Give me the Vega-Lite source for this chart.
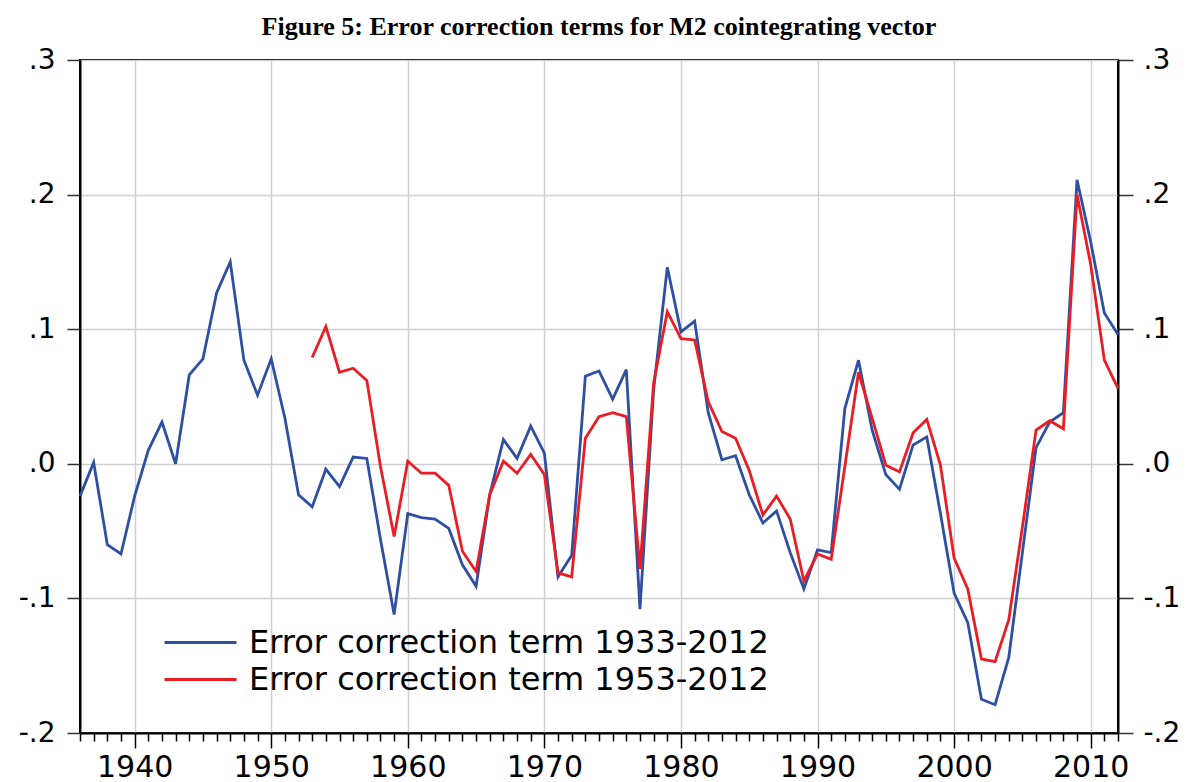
{
  "$schema": "https://vega.github.io/schema/vega-lite/v6.json",
  "width": 1038,
  "height": 673,
  "autosize": {"type": "none"},
  "padding": {"left": 80, "top": 60, "right": 75, "bottom": 49},
  "background": "white",
  "title": {
    "text": "Figure 5: Error correction terms for M2 cointegrating vector",
    "font": "Liberation Serif",
    "fontWeight": "bold",
    "fontSize": 26,
    "color": "black",
    "anchor": "middle",
    "offset": 6
  },
  "config": {
    "view": {"stroke": "black", "strokeWidth": 2},
    "axis": {
      "labelFont": "DejaVu Sans",
      "labelColor": "black",
      "domainColor": "black",
      "domainWidth": 2,
      "tickColor": "#333333",
      "tickWidth": 1.5,
      "gridColor": "#d0d0d0",
      "gridWidth": 1.5,
      "title": null
    },
    "legend": {
      "title": null,
      "orient": "none",
      "symbolType": "stroke",
      "symbolSize": 5184,
      "symbolStrokeWidth": 3,
      "labelFont": "DejaVu Sans",
      "labelFontSize": 32,
      "labelColor": "black",
      "labelLimit": 800,
      "labelOffset": 11,
      "padding": 0
    }
  },
  "datasets": {
    "ect": [
      {"year": 1936, "series": "Error correction term 1933-2012", "value": -0.024},
      {"year": 1937, "series": "Error correction term 1933-2012", "value": 0.001},
      {"year": 1938, "series": "Error correction term 1933-2012", "value": -0.060},
      {"year": 1939, "series": "Error correction term 1933-2012", "value": -0.067},
      {"year": 1940, "series": "Error correction term 1933-2012", "value": -0.024},
      {"year": 1941, "series": "Error correction term 1933-2012", "value": 0.010},
      {"year": 1942, "series": "Error correction term 1933-2012", "value": 0.031},
      {"year": 1943, "series": "Error correction term 1933-2012", "value": 0.000},
      {"year": 1944, "series": "Error correction term 1933-2012", "value": 0.066},
      {"year": 1945, "series": "Error correction term 1933-2012", "value": 0.078},
      {"year": 1946, "series": "Error correction term 1933-2012", "value": 0.127},
      {"year": 1947, "series": "Error correction term 1933-2012", "value": 0.150},
      {"year": 1948, "series": "Error correction term 1933-2012", "value": 0.077},
      {"year": 1949, "series": "Error correction term 1933-2012", "value": 0.051},
      {"year": 1950, "series": "Error correction term 1933-2012", "value": 0.078},
      {"year": 1951, "series": "Error correction term 1933-2012", "value": 0.034},
      {"year": 1952, "series": "Error correction term 1933-2012", "value": -0.023},
      {"year": 1953, "series": "Error correction term 1933-2012", "value": -0.032},
      {"year": 1954, "series": "Error correction term 1933-2012", "value": -0.004},
      {"year": 1955, "series": "Error correction term 1933-2012", "value": -0.017},
      {"year": 1956, "series": "Error correction term 1933-2012", "value": 0.005},
      {"year": 1957, "series": "Error correction term 1933-2012", "value": 0.004},
      {"year": 1958, "series": "Error correction term 1933-2012", "value": -0.056},
      {"year": 1959, "series": "Error correction term 1933-2012", "value": -0.112},
      {"year": 1960, "series": "Error correction term 1933-2012", "value": -0.037},
      {"year": 1961, "series": "Error correction term 1933-2012", "value": -0.040},
      {"year": 1962, "series": "Error correction term 1933-2012", "value": -0.041},
      {"year": 1963, "series": "Error correction term 1933-2012", "value": -0.048},
      {"year": 1964, "series": "Error correction term 1933-2012", "value": -0.075},
      {"year": 1965, "series": "Error correction term 1933-2012", "value": -0.091},
      {"year": 1966, "series": "Error correction term 1933-2012", "value": -0.023},
      {"year": 1967, "series": "Error correction term 1933-2012", "value": 0.018},
      {"year": 1968, "series": "Error correction term 1933-2012", "value": 0.004},
      {"year": 1969, "series": "Error correction term 1933-2012", "value": 0.028},
      {"year": 1970, "series": "Error correction term 1933-2012", "value": 0.008},
      {"year": 1971, "series": "Error correction term 1933-2012", "value": -0.084},
      {"year": 1972, "series": "Error correction term 1933-2012", "value": -0.068},
      {"year": 1973, "series": "Error correction term 1933-2012", "value": 0.065},
      {"year": 1974, "series": "Error correction term 1933-2012", "value": 0.069},
      {"year": 1975, "series": "Error correction term 1933-2012", "value": 0.048},
      {"year": 1976, "series": "Error correction term 1933-2012", "value": 0.070},
      {"year": 1977, "series": "Error correction term 1933-2012", "value": -0.108},
      {"year": 1978, "series": "Error correction term 1933-2012", "value": 0.055},
      {"year": 1979, "series": "Error correction term 1933-2012", "value": 0.146},
      {"year": 1980, "series": "Error correction term 1933-2012", "value": 0.098},
      {"year": 1981, "series": "Error correction term 1933-2012", "value": 0.106},
      {"year": 1982, "series": "Error correction term 1933-2012", "value": 0.038},
      {"year": 1983, "series": "Error correction term 1933-2012", "value": 0.003},
      {"year": 1984, "series": "Error correction term 1933-2012", "value": 0.006},
      {"year": 1985, "series": "Error correction term 1933-2012", "value": -0.023},
      {"year": 1986, "series": "Error correction term 1933-2012", "value": -0.044},
      {"year": 1987, "series": "Error correction term 1933-2012", "value": -0.035},
      {"year": 1988, "series": "Error correction term 1933-2012", "value": -0.066},
      {"year": 1989, "series": "Error correction term 1933-2012", "value": -0.093},
      {"year": 1990, "series": "Error correction term 1933-2012", "value": -0.064},
      {"year": 1991, "series": "Error correction term 1933-2012", "value": -0.066},
      {"year": 1992, "series": "Error correction term 1933-2012", "value": 0.041},
      {"year": 1993, "series": "Error correction term 1933-2012", "value": 0.077},
      {"year": 1994, "series": "Error correction term 1933-2012", "value": 0.025},
      {"year": 1995, "series": "Error correction term 1933-2012", "value": -0.008},
      {"year": 1996, "series": "Error correction term 1933-2012", "value": -0.019},
      {"year": 1997, "series": "Error correction term 1933-2012", "value": 0.014},
      {"year": 1998, "series": "Error correction term 1933-2012", "value": 0.020},
      {"year": 1999, "series": "Error correction term 1933-2012", "value": -0.037},
      {"year": 2000, "series": "Error correction term 1933-2012", "value": -0.096},
      {"year": 2001, "series": "Error correction term 1933-2012", "value": -0.118},
      {"year": 2002, "series": "Error correction term 1933-2012", "value": -0.175},
      {"year": 2003, "series": "Error correction term 1933-2012", "value": -0.179},
      {"year": 2004, "series": "Error correction term 1933-2012", "value": -0.144},
      {"year": 2005, "series": "Error correction term 1933-2012", "value": -0.066},
      {"year": 2006, "series": "Error correction term 1933-2012", "value": 0.012},
      {"year": 2007, "series": "Error correction term 1933-2012", "value": 0.031},
      {"year": 2008, "series": "Error correction term 1933-2012", "value": 0.038},
      {"year": 2009, "series": "Error correction term 1933-2012", "value": 0.211},
      {"year": 2010, "series": "Error correction term 1933-2012", "value": 0.165},
      {"year": 2011, "series": "Error correction term 1933-2012", "value": 0.112},
      {"year": 2012, "series": "Error correction term 1933-2012", "value": 0.096},
      {"year": 1953, "series": "Error correction term 1953-2012", "value": 0.079},
      {"year": 1954, "series": "Error correction term 1953-2012", "value": 0.102},
      {"year": 1955, "series": "Error correction term 1953-2012", "value": 0.068},
      {"year": 1956, "series": "Error correction term 1953-2012", "value": 0.071},
      {"year": 1957, "series": "Error correction term 1953-2012", "value": 0.062},
      {"year": 1958, "series": "Error correction term 1953-2012", "value": -0.002},
      {"year": 1959, "series": "Error correction term 1953-2012", "value": -0.054},
      {"year": 1960, "series": "Error correction term 1953-2012", "value": 0.002},
      {"year": 1961, "series": "Error correction term 1953-2012", "value": -0.007},
      {"year": 1962, "series": "Error correction term 1953-2012", "value": -0.007},
      {"year": 1963, "series": "Error correction term 1953-2012", "value": -0.016},
      {"year": 1964, "series": "Error correction term 1953-2012", "value": -0.065},
      {"year": 1965, "series": "Error correction term 1953-2012", "value": -0.080},
      {"year": 1966, "series": "Error correction term 1953-2012", "value": -0.023},
      {"year": 1967, "series": "Error correction term 1953-2012", "value": 0.002},
      {"year": 1968, "series": "Error correction term 1953-2012", "value": -0.007},
      {"year": 1969, "series": "Error correction term 1953-2012", "value": 0.007},
      {"year": 1970, "series": "Error correction term 1953-2012", "value": -0.008},
      {"year": 1971, "series": "Error correction term 1953-2012", "value": -0.081},
      {"year": 1972, "series": "Error correction term 1953-2012", "value": -0.084},
      {"year": 1973, "series": "Error correction term 1953-2012", "value": 0.019},
      {"year": 1974, "series": "Error correction term 1953-2012", "value": 0.035},
      {"year": 1975, "series": "Error correction term 1953-2012", "value": 0.038},
      {"year": 1976, "series": "Error correction term 1953-2012", "value": 0.035},
      {"year": 1977, "series": "Error correction term 1953-2012", "value": -0.078},
      {"year": 1978, "series": "Error correction term 1953-2012", "value": 0.060},
      {"year": 1979, "series": "Error correction term 1953-2012", "value": 0.113},
      {"year": 1980, "series": "Error correction term 1953-2012", "value": 0.093},
      {"year": 1981, "series": "Error correction term 1953-2012", "value": 0.092},
      {"year": 1982, "series": "Error correction term 1953-2012", "value": 0.046},
      {"year": 1983, "series": "Error correction term 1953-2012", "value": 0.024},
      {"year": 1984, "series": "Error correction term 1953-2012", "value": 0.019},
      {"year": 1985, "series": "Error correction term 1953-2012", "value": -0.005},
      {"year": 1986, "series": "Error correction term 1953-2012", "value": -0.038},
      {"year": 1987, "series": "Error correction term 1953-2012", "value": -0.024},
      {"year": 1988, "series": "Error correction term 1953-2012", "value": -0.041},
      {"year": 1989, "series": "Error correction term 1953-2012", "value": -0.087},
      {"year": 1990, "series": "Error correction term 1953-2012", "value": -0.067},
      {"year": 1991, "series": "Error correction term 1953-2012", "value": -0.071},
      {"year": 1992, "series": "Error correction term 1953-2012", "value": -0.002},
      {"year": 1993, "series": "Error correction term 1953-2012", "value": 0.068},
      {"year": 1994, "series": "Error correction term 1953-2012", "value": 0.034},
      {"year": 1995, "series": "Error correction term 1953-2012", "value": -0.001},
      {"year": 1996, "series": "Error correction term 1953-2012", "value": -0.006},
      {"year": 1997, "series": "Error correction term 1953-2012", "value": 0.023},
      {"year": 1998, "series": "Error correction term 1953-2012", "value": 0.033},
      {"year": 1999, "series": "Error correction term 1953-2012", "value": -0.001},
      {"year": 2000, "series": "Error correction term 1953-2012", "value": -0.070},
      {"year": 2001, "series": "Error correction term 1953-2012", "value": -0.093},
      {"year": 2002, "series": "Error correction term 1953-2012", "value": -0.145},
      {"year": 2003, "series": "Error correction term 1953-2012", "value": -0.147},
      {"year": 2004, "series": "Error correction term 1953-2012", "value": -0.116},
      {"year": 2005, "series": "Error correction term 1953-2012", "value": -0.047},
      {"year": 2006, "series": "Error correction term 1953-2012", "value": 0.025},
      {"year": 2007, "series": "Error correction term 1953-2012", "value": 0.032},
      {"year": 2008, "series": "Error correction term 1953-2012", "value": 0.026},
      {"year": 2009, "series": "Error correction term 1953-2012", "value": 0.200},
      {"year": 2010, "series": "Error correction term 1953-2012", "value": 0.148},
      {"year": 2011, "series": "Error correction term 1953-2012", "value": 0.077},
      {"year": 2012, "series": "Error correction term 1953-2012", "value": 0.056}
    ]
  },
  "data": {"name": "ect"},
  "encoding": {
    "x": {
      "field": "year",
      "type": "quantitative",
      "scale": {"domain": [1936, 2012], "nice": false, "zero": false},
      "axis": {
        "values": [1936,1937,1938,1939,1940,1941,1942,1943,1944,1945,1946,1947,1948,1949,1950,1951,1952,1953,1954,1955,1956,1957,1958,1959,1960,1961,1962,1963,1964,1965,1966,1967,1968,1969,1970,1971,1972,1973,1974,1975,1976,1977,1978,1979,1980,1981,1982,1983,1984,1985,1986,1987,1988,1989,1990,1991,1992,1993,1994,1995,1996,1997,1998,1999,2000,2001,2002,2003,2004,2005,2006,2007,2008,2009,2010,2011,2012],
        "format": "d",
        "labelExpr": "datum.value % 10 === 0 ? datum.label : ''",
        "labelOverlap": false,
        "labelFlush": false,
        "labelFontSize": 30,
        "labelPadding": 4,
        "tickSize": {"condition": {"test": "datum.value % 10 === 0", "value": 15}, "value": 8},
        "tickColor": "black",
        "grid": true,
        "gridOpacity": {"condition": {"test": "datum.value % 10 === 0", "value": 1}, "value": 0}
      }
    }
  },
  "layer": [
    {
      "transform": [{"filter": "datum.series === 'Error correction term 1933-2012'"}],
      "mark": {"type": "line", "strokeWidth": 2.8, "strokeJoin": "miter"},
      "encoding": {
        "y": {
          "field": "value",
          "type": "quantitative",
          "scale": {"domain": [-0.2, 0.3], "nice": false, "zero": false},
          "axis": {
            "orient": "left",
            "values": [-0.2, -0.1, 0, 0.1, 0.2, 0.3],
            "labelExpr": "replace(replace(format(datum.value, '.1f'), '0.', '.'), '\u2212', '-')",
            "labelFontSize": 28,
            "labelPadding": 12,
            "tickSize": 13,
            "grid": true
          }
        },
        "color": {
          "field": "series",
          "type": "nominal",
          "scale": {"domain": ["Error correction term 1933-2012"], "range": ["#2F4FA2"]},
          "legend": {"legendX": 83, "legendY": 545}
        }
      }
    },
    {
      "transform": [{"filter": "datum.series === 'Error correction term 1953-2012'"}],
      "mark": {"type": "line", "strokeWidth": 2.8, "strokeJoin": "miter"},
      "encoding": {
        "y": {
          "field": "value",
          "type": "quantitative",
          "scale": {"domain": [-0.2, 0.3], "nice": false, "zero": false},
          "axis": null
        },
        "stroke": {
          "field": "series",
          "type": "nominal",
          "scale": {"domain": ["Error correction term 1953-2012"], "range": ["#EC1C24"]},
          "legend": {"legendX": 83, "legendY": 582}
        }
      }
    },
    {
      "mark": {"type": "point", "opacity": 0},
      "encoding": {
        "y": {
          "field": "value",
          "type": "quantitative",
          "scale": {"domain": [-0.2, 0.3], "nice": false, "zero": false},
          "axis": {
            "orient": "right",
            "values": [-0.2, -0.1, 0, 0.1, 0.2, 0.3],
            "labelExpr": "replace(replace(format(datum.value, '.1f'), '0.', '.'), '\u2212', '-')",
            "labelFontSize": 28,
            "labelPadding": 10,
            "tickSize": 15,
            "grid": false
          }
        }
      }
    }
  ],
  "resolve": {"axis": {"y": "independent"}}
}
